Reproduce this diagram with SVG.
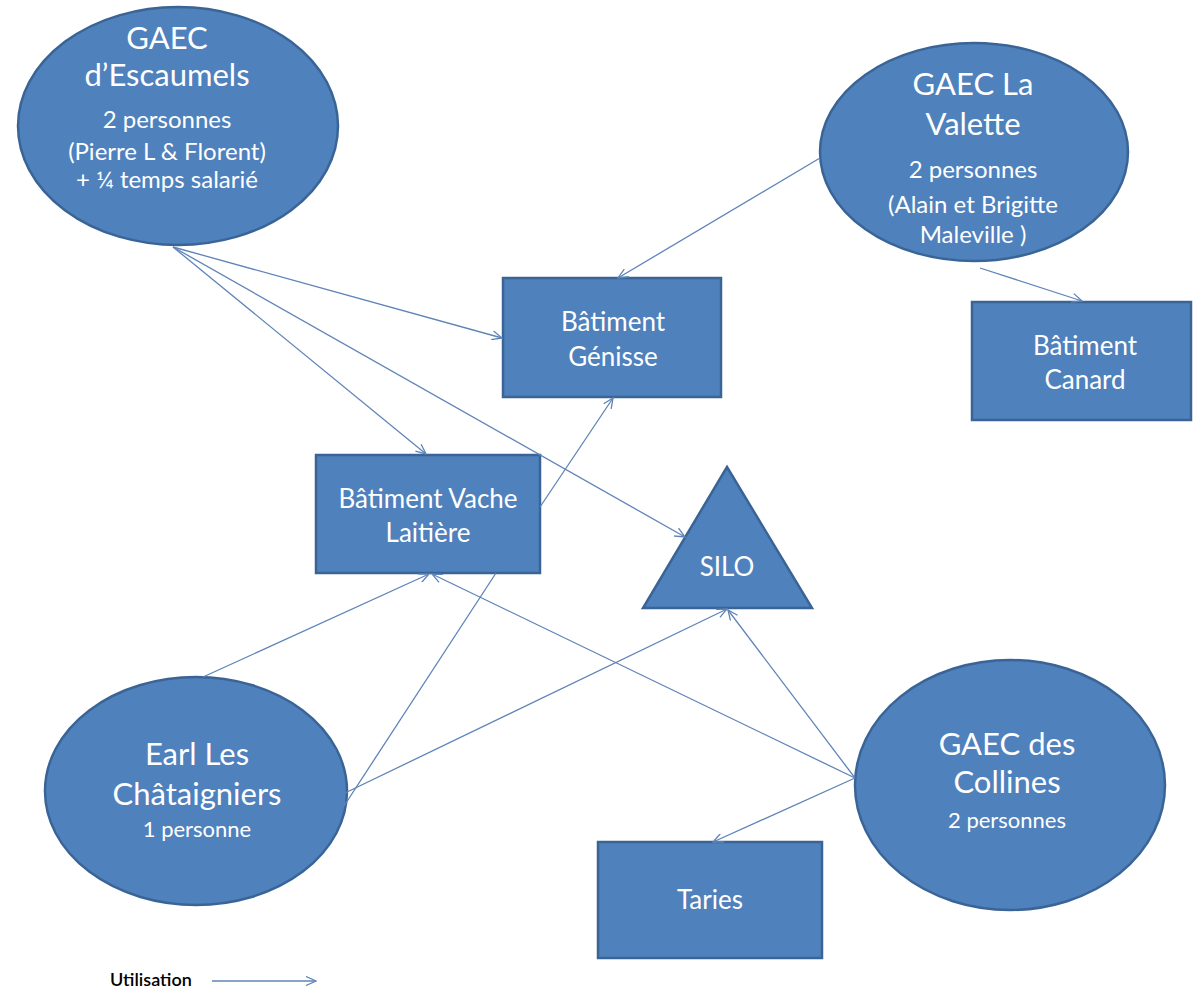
<svg xmlns="http://www.w3.org/2000/svg" width="1195" height="992" viewBox="0 0 1195 992">
<defs>
<marker id="arr" viewBox="0 0 12 10" refX="11" refY="5" markerWidth="12" markerHeight="10" markerUnits="userSpaceOnUse" orient="auto">
<path d="M1,0.5 L11,5 L1,9.5" fill="none" stroke="#5f84b8" stroke-width="1.3"/>
</marker>
</defs>
<style>
.shape{fill:#4f81bd;stroke:#3a6496;stroke-width:2.5}
.t{font-family:Lato,"Open Sans","Liberation Sans",sans-serif;fill:#ffffff;text-anchor:middle}
.big{font-size:31px}
.mid{font-size:24px}
.box{font-size:26px}
.sm{font-size:22px}
.c{fill:none;stroke:#5f84b8;stroke-width:1.3}
.ca{fill:none;stroke:#5f84b8;stroke-width:1.3;marker-end:url(#arr)}
</style>
<rect width="1195" height="992" fill="#ffffff"/>

<g id="escaumels">
<ellipse class="shape" cx="178" cy="126" rx="160" ry="119"/>
<text class="t big" x="167" y="49">GAEC</text>
<text class="t big" x="167" y="86">d’Escaumels</text>
<text class="t mid" x="167" y="128">2 personnes</text>
<text class="t mid" x="167" y="160">(Pierre L &amp; Florent)</text>
<text class="t mid" x="167" y="188">+ ¼ temps salarié</text>
</g>

<g id="lavalette">
<ellipse class="shape" cx="974" cy="152" rx="154" ry="109"/>
<text class="t big" x="973" y="95">GAEC La</text>
<text class="t big" x="973" y="135">Valette</text>
<text class="t mid" x="973" y="178">2 personnes</text>
<text class="t mid" x="973" y="213">(Alain et Brigitte</text>
<text class="t mid" x="973" y="243">Maleville )</text>
</g>

<g id="genisse">
<rect class="shape" x="503" y="278" width="218" height="119"/>
<text class="t box" x="613" y="331">Bâtiment</text>
<text class="t box" x="613" y="366">Génisse</text>
</g>

<g id="canard">
<rect class="shape" x="972" y="302" width="219" height="118"/>
<text class="t box" x="1085" y="355">Bâtiment</text>
<text class="t box" x="1085" y="389">Canard</text>
</g>

<g id="vache">
<rect class="shape" x="316" y="455" width="224" height="118"/>
<text class="t box" x="428" y="508">Bâtiment Vache</text>
<text class="t box" x="428" y="542">Laitière</text>
</g>

<g id="silo">
<polygon class="shape" points="727,467 812,608 643,608"/>
<text class="t box" x="727" y="576">SILO</text>
</g>

<g id="earl">
<ellipse class="shape" cx="196" cy="791" rx="151" ry="114"/>
<text class="t big" x="197" y="765">Earl Les</text>
<text class="t big" x="197" y="805">Châtaigniers</text>
<text class="t sm" x="197" y="837">1 personne</text>
</g>

<g id="collines">
<ellipse class="shape" cx="1010" cy="785" rx="155" ry="125"/>
<text class="t big" x="1007" y="755">GAEC des</text>
<text class="t big" x="1007" y="793">Collines</text>
<text class="t sm" x="1007" y="828">2 personnes</text>
</g>

<g id="taries">
<rect class="shape" x="598" y="842" width="224" height="116"/>
<text class="t box" x="710" y="909">Taries</text>
</g>

<g id="connectors">
<line class="ca" x1="173" y1="247" x2="502" y2="338"/>
<line class="ca" x1="173" y1="247" x2="426" y2="454"/>
<line class="ca" x1="173" y1="247" x2="685" y2="537"/>
<line class="ca" x1="820" y1="158" x2="618" y2="278"/>
<line class="ca" x1="980" y1="268" x2="1082" y2="301"/>
<line class="ca" x1="540" y1="507" x2="613" y2="398"/>
<line class="ca" x1="203" y1="677" x2="429" y2="574"/>
<line class="ca" x1="345" y1="793" x2="727" y2="609"/>
<line class="c" x1="496" y1="573" x2="344" y2="806"/>
<line class="ca" x1="855" y1="778" x2="432" y2="574"/>
<line class="ca" x1="855" y1="778" x2="728" y2="610"/>
<line class="ca" x1="855" y1="778" x2="713" y2="842"/>
</g>

<g id="legend">
<text x="110" y="986" style="font-family:Lato,'Liberation Sans',sans-serif;font-size:18px;font-weight:600;fill:#000000">Utilisation</text>
<line class="ca" x1="212" y1="981" x2="316" y2="981"/>
</g>
</svg>
